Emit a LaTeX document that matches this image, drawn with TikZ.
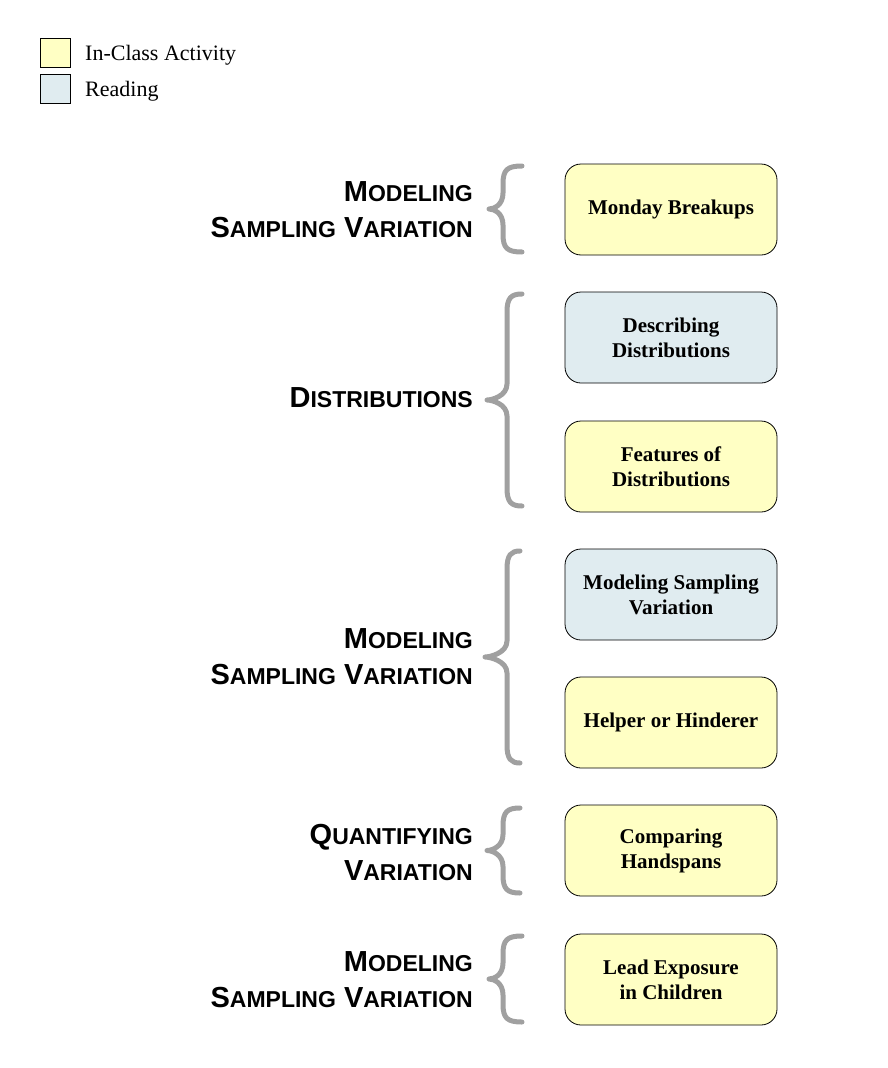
\documentclass[tikz,border=0pt]{standalone}
\usepackage{fontspec}
\setmainfont{Liberation Serif}
\newfontfamily\hfont{Liberation Sans}
\definecolor{actcol}{RGB}{255,255,196}
\definecolor{rdcol}{RGB}{224,236,240}
\definecolor{bracecol}{RGB}{160,160,160}
\newcommand\hsc[2]{{\fontsize{29}{36}\selectfont #1}{\fontsize{23}{36}\selectfont #2}}
\newcommand\mybrace[5]{%
  \draw[brc] (#1,#4) .. controls (#2+4,#4) and (#2,#4+4) .. (#2,#4+18)
    -- (#2,{(#4+#5)/2-16}) .. controls (#2,{(#4+#5)/2-4}) and (#3+5,{(#4+#5)/2}) .. (#3,{(#4+#5)/2})
    .. controls (#3+5,{(#4+#5)/2}) and (#2,{(#4+#5)/2+4}) .. (#2,{(#4+#5)/2+16})
    -- (#2,#5-18) .. controls (#2,#5-4) and (#2+4,#5) .. (#1,#5);}
\tikzset{
  box/.style={draw=black, line width=0.8pt, rounded corners=16pt, minimum width=212pt,
    minimum height=91pt, align=center, inner sep=0pt, font=\bfseries\fontsize{21}{25}\selectfont},
  act/.style={box, fill=actcol},
  rd/.style={box, fill=rdcol},
  legbox/.style={draw=black, line width=0.8pt, minimum width=30pt, minimum height=29pt, inner sep=0pt},
  legtext/.style={anchor=west, inner sep=0pt, font=\fontsize{22}{26}\selectfont},
  brc/.style={draw=bracecol, line width=5pt, line cap=round, line join=round},
  head/.style={anchor=east, align=right, inner sep=0pt, font=\hfont\bfseries\fontsize{29}{36}\selectfont}
}
\begin{document}
\begin{tikzpicture}[x=1pt,y=-1pt]
\useasboundingbox (0,0) rectangle (888,1068);
% legend
\node[legbox, fill=actcol] (la) at (55,52.5) {};
\node[legbox, fill=rdcol] (lr) at (55,88.5) {};
\node[legtext] (lat) at (85,55) {In-Class Activity};
\node[legtext] (lrt) at (85,91) {Reading};
% boxes
\node[act] (b1) at (671,209.5) {Monday Breakups};
\node[rd]  (b2) at (671,337.5) {Describing\\Distributions};
\node[act] (b3) at (671,466.5) {Features of\\Distributions};
\node[rd]  (b4) at (671,594.5) {Modeling Sampling\\Variation};
\node[act] (b5) at (671,722.5) {Helper or Hinderer};
\node[act] (b6) at (671,850.5) {Comparing\\Handspans};
\node[act] (b7) at (671,979.5) {Lead Exposure\\in Children};
% headings
\node[head] (h1) at (473,210) {\hsc{M}{ODELING}\\\hsc{S}{AMPLING} \hsc{V}{ARIATION}};
\node[head] (h2) at (473,398) {\hsc{D}{ISTRIBUTIONS}};
\node[head] (h3) at (473,657) {\hsc{M}{ODELING}\\\hsc{S}{AMPLING} \hsc{V}{ARIATION}};
\node[head] (h4) at (473,852) {\hsc{Q}{UANTIFYING}\\\hsc{V}{ARIATION}};
\node[head] (h5) at (473,980) {\hsc{M}{ODELING}\\\hsc{S}{AMPLING} \hsc{V}{ARIATION}};
% braces
\mybrace{522}{503}{489}{166}{252}
\mybrace{522}{507}{487}{294}{506}
\mybrace{520}{507}{485}{551}{763}
\mybrace{520}{503}{487}{808}{893}
\mybrace{522}{503}{489}{936}{1022}
\end{tikzpicture}
\end{document}
